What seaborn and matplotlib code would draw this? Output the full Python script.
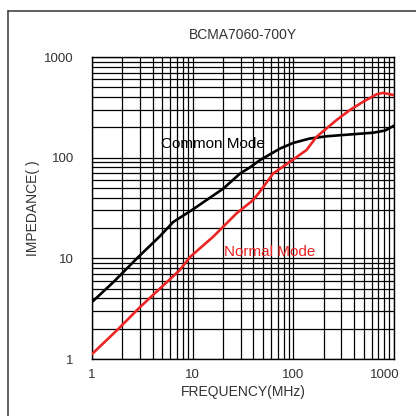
"""
Impedance vs frequency chart for BCMA7060-700Y
"""

import matplotlib
matplotlib.use("Agg")
import matplotlib.pyplot as plt
from matplotlib.lines import Line2D
from matplotlib.transforms import ScaledTranslation
import numpy as np
import pandas as pd
import seaborn as sns

# Curve data (MHz, ohm)
common_freq = [1, 1.63, 2.88, 4.73, 6.42, 9.75, 20.2, 29.6, 37, 46.5, 73.6, 99.5, 146, 214, 290, 620, 815, 1000]
common_imp = [3.68, 5.8, 10.3, 16.6, 23.0, 30, 49.4, 69.6, 80, 94.4, 123, 140, 155, 163, 167, 177, 186, 208]

normal_freq = [1, 1.76, 3.0, 7.4, 9.4, 16.0, 27.3, 40, 46.5, 63, 92.5, 135, 170, 268, 364, 495, 677, 780, 1000]
normal_imp = [1.12, 1.92, 3.28, 7.6, 10.3, 16.4, 28, 38, 46, 69.6, 91, 119, 161, 236, 297, 360, 428, 440, 418]

x_ticks = [1, 10, 100, 1000]
x_tick_labels = ["1", "10", "100", "1000"]
y_ticks = [1, 10, 100, 1000]
y_tick_labels = ["1", "10", "100", "1000"]

text_color = "#333333"
red = "#ec2424"

sns.set_style("white")
plt.rcParams["font.family"] = ["Liberation Sans", "DejaVu Sans"]

df = pd.concat([
    pd.DataFrame({"freq": common_freq, "imp": common_imp, "mode": "Common Mode"}),
    pd.DataFrame({"freq": normal_freq, "imp": normal_imp, "mode": "Normal Mode"}),
])

fig = plt.figure(figsize=(4.16, 4.16), dpi=100)
ax = fig.add_axes([92 / 416, 1 - 359 / 416, 302 / 416, 302 / 416])

ax.set_xscale("log")
ax.set_yscale("log")
sns.lineplot(
    data=df, x="freq", y="imp", hue="mode",
    palette={"Common Mode": "black", "Normal Mode": red},
    linewidth=1.9, legend=False, sort=False, ax=ax, zorder=3,
)

ax.set_xlim(1, 1000)
ax.set_ylim(1, 1000)

# grid on every decade and sub-decade
ax.grid(which="both", color="black", linewidth=0.9)
ax.set_axisbelow(True)
for s in ax.spines.values():
    s.set_color("black")
    s.set_linewidth(1.0)

ax.set_xticks(x_ticks)
ax.set_xticklabels(x_tick_labels)
ax.set_yticks(y_ticks)
ax.set_yticklabels(y_tick_labels)
ax.tick_params(which="both", length=0)
ax.tick_params(axis="x", pad=7, labelsize=9.5, labelcolor=text_color)
ax.tick_params(axis="y", pad=13, labelsize=9.5, labelcolor=text_color)

ax.set_xlabel("FREQUENCY(MHz)", fontsize=10, color=text_color, labelpad=3)
ax.set_ylabel("IMPEDANCE( )", fontsize=10, color=text_color, labelpad=3)
ax.set_title("BCMA7060-700Y", fontsize=10, color=text_color, pad=13)

ax.text(15.9, 136, "Common Mode", fontsize=11, color="black", ha="center", va="center", zorder=4)
ax.text(58.6, 11.5, "Normal Mode", fontsize=11, color=red, ha="center", va="center", zorder=4)

# the "1000" label sits a little left of its gridline in the reference
lab = ax.get_xticklabels()[-1]
lab.set_transform(lab.get_transform() + ScaledTranslation(-9 / 100, 0, fig.dpi_scale_trans))

# frame around the figure (only top and left edges show)
fig.add_artist(Line2D([8 / 416, 1], [1 - 11 / 416, 1 - 11 / 416], color="#444444", linewidth=1.2))
fig.add_artist(Line2D([8 / 416, 8 / 416], [0, 1 - 11 / 416], color="#444444", linewidth=1.2))

fig.savefig("out.png", dpi=100)
plt.close(fig)
